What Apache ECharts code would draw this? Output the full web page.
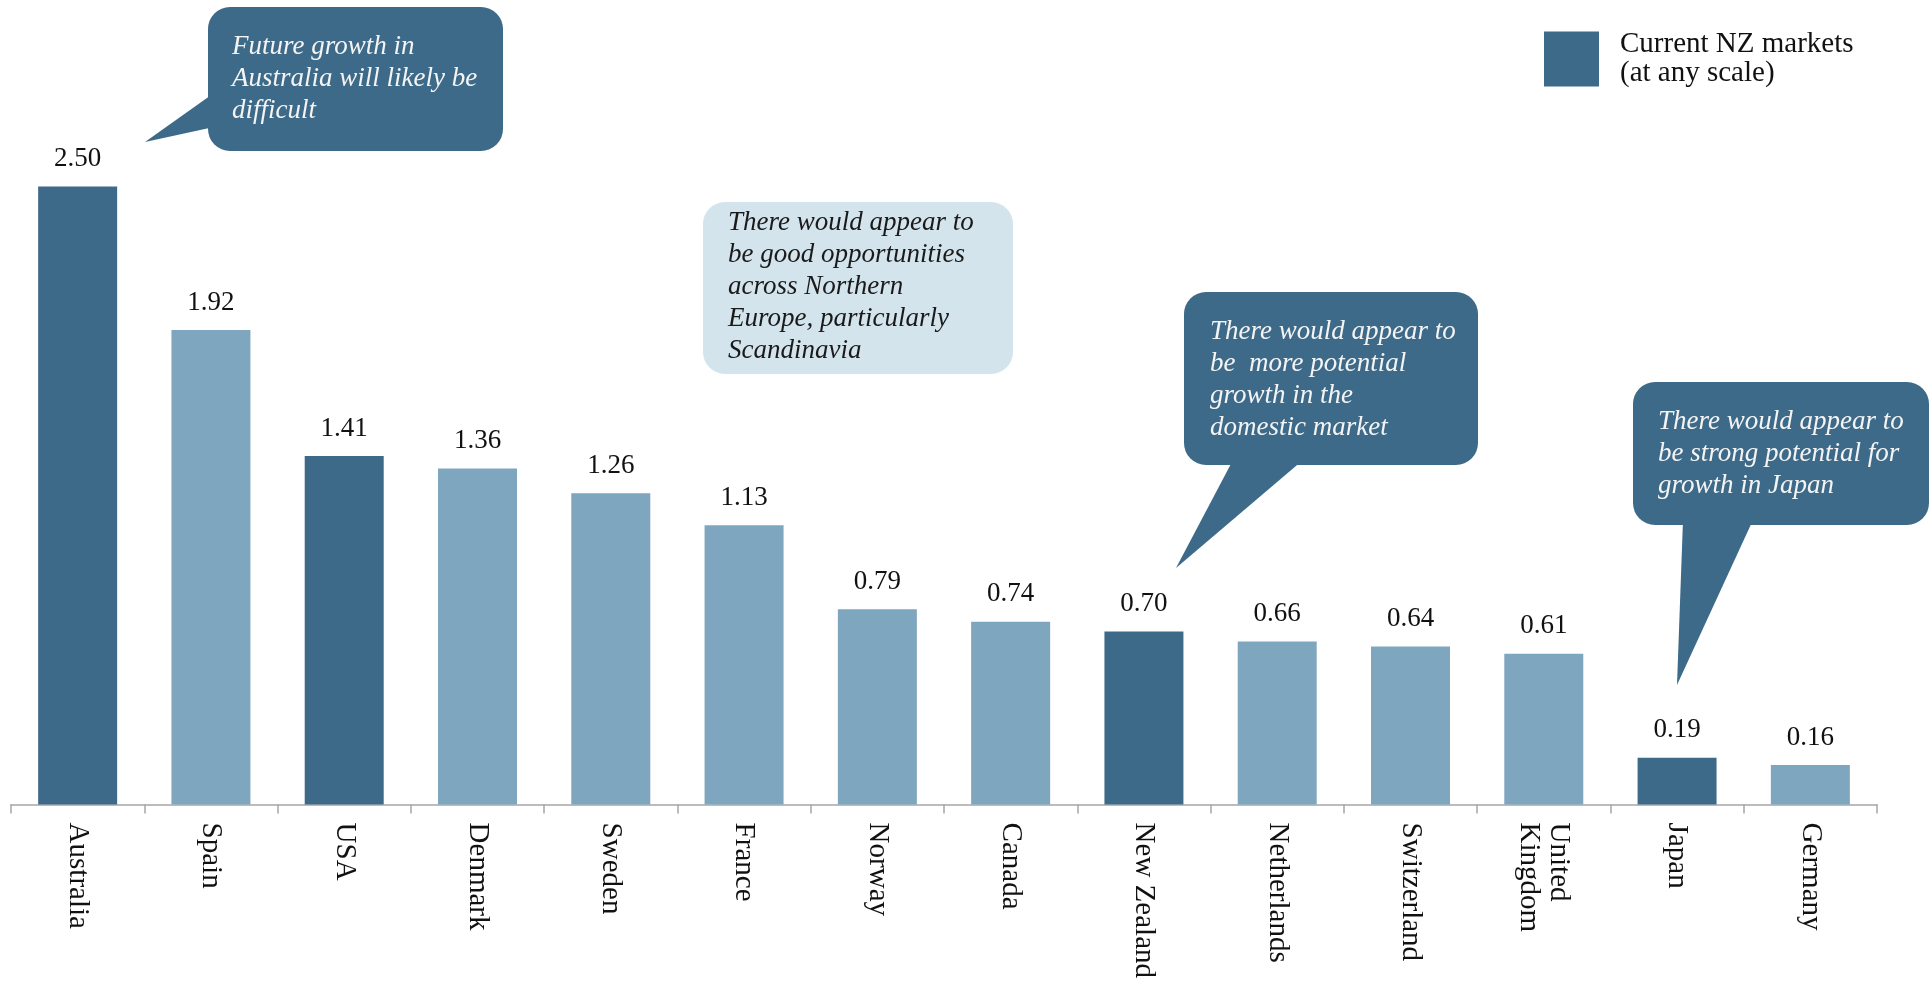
<!DOCTYPE html>
<html>
<head>
<meta charset="utf-8">
<script src="https://cdn.jsdelivr.net/npm/echarts@6/dist/echarts.min.js"></script>
<style>
html,body{margin:0;padding:0;background:#fff;}
#chart{width:1931px;height:981px;}
</style>
</head>
<body>
<div id="chart"></div>
<script>
const categories = ['Australia','Spain','USA','Denmark','Sweden','France','Norway','Canada','New Zealand','Netherlands','Switzerland','United\nKingdom','Japan','Germany'];
const values = [2.50,1.92,1.41,1.36,1.26,1.13,0.79,0.74,0.70,0.66,0.64,0.61,0.19,0.16];
const currentNZMarket = [true,false,true,false,false,false,false,false,true,false,false,false,true,false];
const legendName = 'Current NZ markets';
const legendLabel = 'Current NZ markets\n(at any scale)';

const DARK = '#3E6A89';
const LIGHT = '#7FA6BF';
const SERIF = '"Liberation Serif", "DejaVu Serif", serif';

const darkData = values.map((v,i)=> currentNZMarket[i] ? v : '-');
const lightData = values.map((v,i)=> currentNZMarket[i] ? '-' : v);

const labelCfg = {
  show: true, position: 'top', distance: 14,
  fontSize: 27, fontFamily: SERIF, color: '#111',
  formatter: p => Number(p.value).toFixed(2)
};

function callout(fill, rect, pointer, text, textPos, textColor){
  const children = [
    {type:'rect', shape:{x:rect[0], y:rect[1], width:rect[2], height:rect[3], r:22}, style:{fill:fill}}
  ];
  if (pointer) children.push({type:'polygon', shape:{points:pointer}, style:{fill:fill}});
  children.push({type:'text', x:textPos[0], y:textPos[1], style:{
    text:text, fill:textColor, fontSize:27, fontFamily:SERIF, fontStyle:'italic',
    lineHeight:32, verticalAlign:'top', align:'left'}});
  return {type:'group', z:100, children:children};
}

const chart = echarts.init(document.getElementById('chart'));
chart.setOption({
  animation: false,
  backgroundColor: '#fff',
  grid: {left: 11, right: 54, top: 63, bottom: 176, containLabel: false},
  legend: {
    data: [{name: legendName, icon: 'rect'}],
    left: 1539, top: 25,
    itemWidth: 55, itemHeight: 55,
    formatter: () => legendLabel,
    textStyle: {fontSize: 29, fontFamily: SERIF, color: '#111', lineHeight: 29, padding: [0,0,0,16]},
    selectedMode: false
  },
  xAxis: {
    type: 'category',
    data: categories,
    axisLine: {lineStyle: {color: '#A6A6A6', width: 1.5}},
    axisTick: {show: true, length: 9, lineStyle: {color: '#A6A6A6', width: 1.5}},
    axisLabel: {rotate: -90, margin: 18, fontSize: 29, fontFamily: SERIF, color: '#111', lineHeight: 30, interval: 0}
  },
  yAxis: {
    type: 'value', min: 0, max: 3,
    show: false, splitLine: {show: false}
  },
  series: [
    {name: legendName, type: 'bar', data: darkData, barWidth: 79, barGap: '-100%',
     itemStyle: {color: DARK}, label: labelCfg},
    {name: 'Other markets', type: 'bar', data: lightData, barWidth: 79, barGap: '-100%',
     itemStyle: {color: LIGHT}, label: labelCfg}
  ],
  graphic: [
    callout(DARK, [208,7,295,144], [[214,93],[214,127],[145,142]],
      'Future growth in\nAustralia will likely be\ndifficult', [232,31], '#F4F4F4'),
    callout('#D3E4ED', [703,202,310,172], null,
      'There would appear to\nbe good opportunities\nacross Northern\nEurope, particularly\nScandinavia', [728,207], '#1a1a1a'),
    callout(DARK, [1184,292,294,173], [[1233,460],[1303,460],[1176,568]],
      'There would appear to\nbe  more potential\ngrowth in the\ndomestic market', [1210,316], '#F4F4F4'),
    callout(DARK, [1633,382,296,143], [[1683,520],[1753,520],[1677,685]],
      'There would appear to\nbe strong potential for\ngrowth in Japan', [1658,406], '#F4F4F4')
  ]
});
</script>
</body>
</html>
